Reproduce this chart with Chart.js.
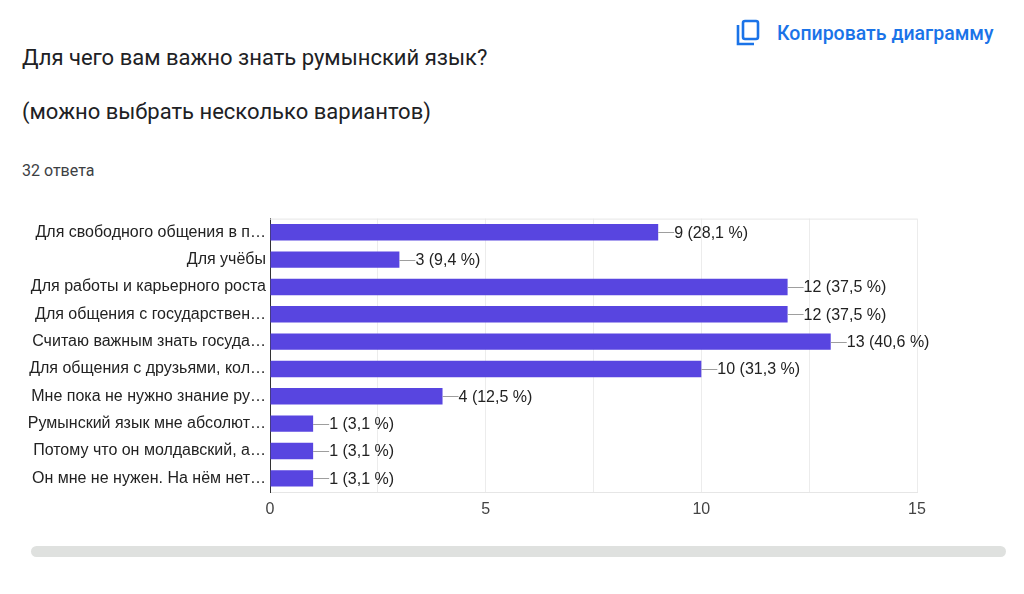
<!DOCTYPE html>
<html><head><meta charset="utf-8">
<script src="https://cdn.jsdelivr.net/npm/chart.js@4/dist/chart.umd.min.js"></script>
<style>
html,body{margin:0;padding:0;background:#fff;width:1024px;height:594px;overflow:hidden;font-family:Roboto,"Noto Sans",sans-serif;}
#title{position:absolute;left:22px;top:44px;font-size:22px;line-height:28px;color:#202124;white-space:nowrap;}
#sub{position:absolute;left:22px;top:98px;font-size:22px;line-height:28px;color:#202124;white-space:nowrap;}
#count{position:absolute;left:22px;top:161px;font-size:16px;line-height:20px;color:#3c4043;white-space:nowrap;}
#copy{position:absolute;left:736px;top:19px;height:28px;display:flex;align-items:center;color:#1a73e8;font-size:19.5px;font-weight:500;white-space:nowrap;}
#copy svg{margin-right:17px;}
#scroll{position:absolute;left:31px;top:546px;width:975px;height:11px;border-radius:6px;background:#dfe1df;}
#wrap{position:absolute;left:0;top:205px;width:1024px;height:320px;}
</style></head><body>
<div id="title">Для чего вам важно знать румынский язык?</div>
<div id="sub">(можно выбрать несколько вариантов)</div>
<div id="count">32 ответа</div>
<div id="copy"><svg width="24" height="28" viewBox="0 0 24 28"><path d="M2 6 V25 H18" fill="none" stroke="#1a73e8" stroke-width="2.6"/><rect x="7" y="2" width="15" height="18" rx="2" fill="none" stroke="#1a73e8" stroke-width="2.6"/></svg>Копировать диаграмму</div>
<div id="scroll"></div>
<div id="wrap"><canvas id="c"></canvas></div>
<script>
const categories = [
  "Для свободного общения в п…",
  "Для учёбы",
  "Для работы и карьерного роста",
  "Для общения с государствен…",
  "Считаю важным знать госуда…",
  "Для общения с друзьями, кол…",
  "Мне пока не нужно знание ру…",
  "Румынский язык мне абсолют…",
  "Потому что он молдавский, а…",
  "Он мне не нужен. На нём нет…"
];
const counts = [9, 3, 12, 12, 13, 10, 4, 1, 1, 1];
const totalResponses = 32;
const xTicks = [0, 5, 10, 15];

const labelPlugin = {
  id: 'valueLabels',
  afterDatasetsDraw(chart) {
    const ctx = chart.ctx;
    const meta = chart.getDatasetMeta(0);
    ctx.save();
    ctx.font = '16px "Liberation Sans", Arial, sans-serif';
    ctx.textBaseline = 'middle';
    ctx.textAlign = 'left';
    meta.data.forEach((bar, i) => {
      const v = counts[i];
      const pct = (v / totalResponses * 100).toFixed(1).replace('.', ',');
      ctx.strokeStyle = '#9e9e9e';
      ctx.lineWidth = 1;
      ctx.beginPath();
      ctx.moveTo(bar.x, Math.round(bar.y) + 0.5);
      ctx.lineTo(bar.x + 16, Math.round(bar.y) + 0.5);
      ctx.stroke();
      ctx.fillStyle = '#222';
      ctx.fillText(v + ' (' + pct + ' %)', bar.x + 16, bar.y + 1);
    });
    ctx.restore();
  }
};
const framePlugin = {
  id: 'frame',
  beforeDatasetsDraw(chart) {
    const a = chart.chartArea, ctx = chart.ctx;
    ctx.save();
    ctx.strokeStyle = '#e6e6e6';
    ctx.lineWidth = 1;
    ctx.beginPath();
    ctx.moveTo(a.left, a.top + 0.5);
    ctx.lineTo(a.right, a.top + 0.5);
    ctx.stroke();
    ctx.restore();
  }
};

new Chart(document.getElementById('c'), {
  type: 'bar',
  data: {
    labels: categories,
    datasets: [{
      data: counts,
      backgroundColor: '#5845e0',
      borderWidth: 0,
      barPercentage: 0.6,
      categoryPercentage: 1.0
    }]
  },
  options: {
    indexAxis: 'y',
    responsive: true,
    maintainAspectRatio: false,
    animation: false,
    layout: { padding: { top: 12, right: 107, left: 0, bottom: 0 } },
    plugins: { legend: { display: false }, tooltip: { enabled: false } },
    scales: {
      x: {
        min: 0, max: 15,
        afterFit(s) { s.height = 33; },
        ticks: {
          stepSize: 2.5,
          autoSkip: false,
          maxRotation: 0,
          padding: 8,
          color: '#444',
          font: { family: '"Liberation Sans", Arial, sans-serif', size: 16 },
          callback: (v) => xTicks.includes(v) ? String(v) : ''
        },
        grid: { color: '#ececec', drawTicks: false, lineWidth: 1 },
        border: { display: true, color: '#e6e6e6' }
      },
      y: {
        afterFit(s) { s.width = 270; },
        ticks: {
          padding: 4,
          color: '#222',
          font: { family: '"Liberation Sans", Arial, sans-serif', size: 16 }
        },
        grid: { display: false, drawTicks: false },
        border: { display: true, color: '#333', width: 1 }
      }
    }
  },
  plugins: [framePlugin, labelPlugin]
});
</script>
</body></html>
